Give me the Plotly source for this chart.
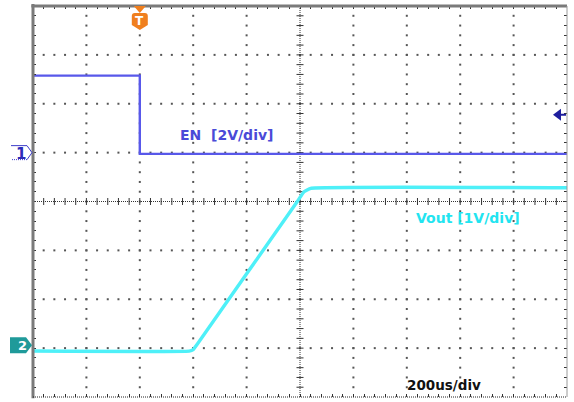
import numpy as np
import plotly.graph_objects as go

# ---- data (read from the scope capture) ----
time_us_range = [-400, 1600]          # 10 div x 200 us
div_range = [-4, 4]                   # 8 vertical divisions

en_time_us = [-400, 0, 0, 1600]
en_volts = [3.15, 3.15, -0.05, -0.05]
en_scale_v_per_div = 2.0
en_offset_div = 1.0

vout_time_us = [-400, 185, 200, 215, 590, 615, 640, 1600]
vout_volts = [-0.06, -0.06, -0.03, 0.08, 3.0, 3.2, 3.27, 3.28]
vout_scale_v_per_div = 1.0
vout_offset_div = -3.0

trigger_time_us = 0
trigger_level_v = 1.55

labels = {"en": "EN  [2V/div]", "vout": "Vout [1V/div]", "timebase": "200us/div"}

EN_COLOR = "#5858ea"
VOUT_COLOR = "#4ef0f8"
GRID_COLOR = "#555555"
FONT = "DejaVu Sans"

def to_div(volts, scale, offset):
    return [v / scale + offset for v in volts]

fig = go.Figure()

# ---- graticule ----
major_x = np.arange(time_us_range[0], time_us_range[1] + 1, 200)
minor_x = np.arange(time_us_range[0], time_us_range[1] + 1, 40)
major_y = np.arange(div_range[0], div_range[1] + 0.01, 1.0)
minor_y = np.round(np.arange(div_range[0], div_range[1] + 0.01, 0.2), 3)

gx, gy = [], []
for xv in major_x[1:-1]:
    if xv == 600:
        continue
    for yv in minor_y[1:-1]:
        gx.append(xv); gy.append(yv)
for yv in major_y[1:-1]:
    if yv == 0:
        continue
    for xv in minor_x[1:-1]:
        gx.append(xv); gy.append(yv)
fig.add_trace(go.Scatter(x=gx, y=gy, mode="markers", hoverinfo="skip",
                         marker=dict(symbol="square", size=2, color=GRID_COLOR, line=dict(width=0)),
                         showlegend=False))

# centre cross ticks
fig.add_trace(go.Scatter(x=list(minor_x[1:-1]), y=[0] * len(minor_x[1:-1]), mode="markers",
                         hoverinfo="skip", showlegend=False,
                         marker=dict(symbol="line-ns", size=5, line=dict(width=1, color="#333"))))
fig.add_trace(go.Scatter(x=[600] * len(minor_y[1:-1]), y=list(minor_y[1:-1]), mode="markers",
                         hoverinfo="skip", showlegend=False,
                         marker=dict(symbol="line-ew", size=5, line=dict(width=1, color="#333"))))

shapes = [
    dict(type="line", xref="x", yref="y", x0=time_us_range[0], x1=time_us_range[1], y0=0, y1=0,
         line=dict(color="#333", width=1, dash="1px,1px"), layer="below"),
    dict(type="line", xref="x", yref="y", x0=600, x1=600, y0=div_range[0], y1=div_range[1],
         line=dict(color="#333", width=1, dash="1px,1px"), layer="below"),
    # borders
    dict(type="line", xref="paper", yref="paper", x0=0, x1=0, y0=-0.003, y1=1.005,
         line=dict(color="#7a7a7a", width=3)),
    dict(type="line", xref="paper", yref="paper", x0=-0.003, x1=1.0, y0=1.0, y1=1.0,
         line=dict(color="#7a7a7a", width=3)),
    dict(type="line", xref="paper", yref="paper", x0=1.0, x1=1.0, y0=0, y1=1,
         line=dict(color="#9a9a9a", width=1)),
    dict(type="line", xref="paper", yref="paper", x0=0, x1=1.0, y0=0, y1=0,
         line=dict(color="#222", width=1, dash="1px,1px")),
]

# ---- waveforms ----
fig.add_trace(go.Scatter(x=en_time_us, y=to_div(en_volts, en_scale_v_per_div, en_offset_div),
                         mode="lines", line=dict(color=EN_COLOR, width=2.4), hoverinfo="skip",
                         showlegend=False))
fig.add_trace(go.Scatter(x=vout_time_us, y=to_div(vout_volts, vout_scale_v_per_div, vout_offset_div),
                         mode="lines", line=dict(color=VOUT_COLOR, width=3.4, shape="spline", smoothing=0.3),
                         hoverinfo="skip", showlegend=False))

# ---- markers: trigger, channel grounds, trigger level ----
# trigger 'T'
shapes.append(dict(type="path", xref="x", yref="y", xsizemode="pixel", ysizemode="pixel",
                   xanchor=trigger_time_us, yanchor=div_range[1],
                   path="M -6,0 L 6,0 L 0,-7 Z", fillcolor="#f07f1e", line=dict(width=0)))
shapes.append(dict(type="path", xref="x", yref="y", xsizemode="pixel", ysizemode="pixel",
                   xanchor=trigger_time_us, yanchor=div_range[1],
                   path="M -5,-7 L 5,-7 Q 8,-7 8,-10 L 8,-19 L 0,-24 L -8,-19 L -8,-10 Q -8,-7 -5,-7 Z",
                   fillcolor="#f07f1e", line=dict(width=0)))
# channel 1 ground (outlined arrow)
shapes.append(dict(type="path", xref="paper", yref="y", xsizemode="pixel", ysizemode="pixel",
                   xanchor=0, yanchor=en_offset_div,
                   path="M -22,7 L -6,7 L -1,0 L -6,-7", line=dict(color="#3c3cc8", width=1)))
shapes.append(dict(type="path", xref="paper", yref="y", xsizemode="pixel", ysizemode="pixel",
                   xanchor=0, yanchor=en_offset_div,
                   path="M -6,-7 L -22,-7", line=dict(color="#3c3cc8", width=1, dash="1px,1px")))
# channel 2 ground (filled arrow)
shapes.append(dict(type="path", xref="paper", yref="y", xsizemode="pixel", ysizemode="pixel",
                   xanchor=0, yanchor=vout_offset_div,
                   path="M -23,11 L -7,11 L -1,3 L -7,-5 L -23,-5 Z",
                   fillcolor="#1f9a9a", line=dict(width=0)))
# trigger level arrow (right edge)
trig_div = trigger_level_v / en_scale_v_per_div + en_offset_div
shapes.append(dict(type="path", xref="paper", yref="y", xsizemode="pixel", ysizemode="pixel",
                   xanchor=1, yanchor=trig_div,
                   path="M -14,0 L -6,6 L -6,-6 Z", fillcolor="#1e1e9e", line=dict(width=0)))
shapes.append(dict(type="line", xref="paper", yref="y", xsizemode="pixel", ysizemode="pixel",
                   xanchor=1, yanchor=trig_div, x0=-7, x1=-1, y0=0, y1=0,
                   line=dict(color="#1e1e9e", width=2)))

annotations = [
    dict(x=trigger_time_us, y=div_range[1], xref="x", yref="y", yshift=-15, text="<b>T</b>",
         showarrow=False, font=dict(family=FONT, size=12, color="white")),
    dict(x=0, y=en_offset_div, xref="paper", yref="y", xshift=-19, yshift=-1, text="<b>1</b>",
         showarrow=False, font=dict(family=FONT, size=15, color="#2b2bb8")),
    dict(x=0, y=vout_offset_div, xref="paper", yref="y", xshift=-17, yshift=3, text="<b>2</b>",
         showarrow=False, font=dict(family=FONT, size=13, color="white")),
    dict(x=323, y=1.36, xref="x", yref="y", text="<b>" + labels["en"] + "</b>", showarrow=False,
         font=dict(family=FONT, size=14, color="#4a4ad8")),
    dict(x=1231, y=-0.34, xref="x", yref="y", text="<b>" + labels["vout"] + "</b>", showarrow=False,
         font=dict(family=FONT, size=14, color="#22e4f0")),
    dict(x=1141, y=-3.75, xref="x", yref="y", text="<b>" + labels["timebase"] + "</b>", showarrow=False,
         font=dict(family=FONT, size=13.5, color="#111")),
]

fig.update_layout(
    width=574, height=402,
    margin=dict(l=33, r=7, t=6, b=5),
    paper_bgcolor="white", plot_bgcolor="white",
    shapes=shapes, annotations=annotations,
    xaxis=dict(range=time_us_range, showgrid=False, zeroline=False, showticklabels=False,
               ticks="inside", ticklen=3, tickwidth=1, tickcolor="#333", tick0=time_us_range[0], dtick=40,
               mirror="ticks", fixedrange=True),
    yaxis=dict(range=div_range, showgrid=False, zeroline=False, showticklabels=False,
               ticks="inside", ticklen=3, tickwidth=1, tickcolor="#333", tick0=div_range[0], dtick=0.2,
               mirror="ticks", fixedrange=True),
    showlegend=False,
)

fig.write_html("out.html")
